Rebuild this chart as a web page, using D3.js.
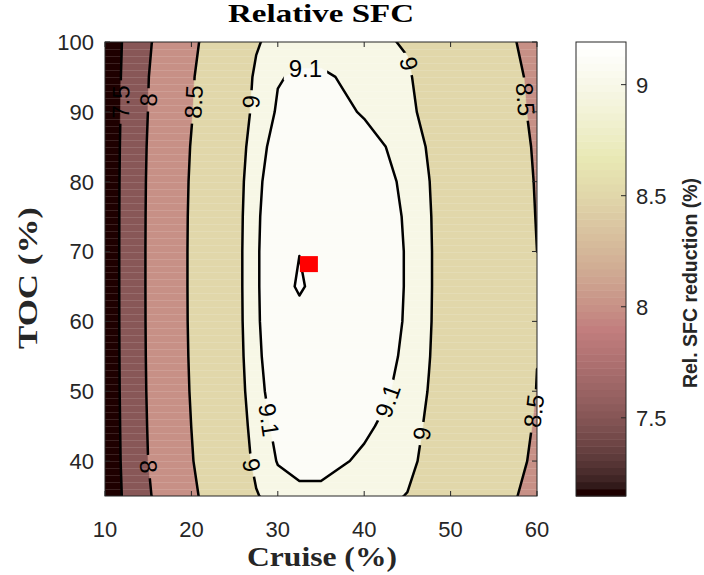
<!DOCTYPE html>
<html>
<head>
<meta charset="utf-8">
<script src="https://cdn.jsdelivr.net/npm/d3@7"></script>
<style>
  body { margin: 0; background: #fff; }
  svg { display: block; }
</style>
</head>
<body>
<svg id="chart" width="704" height="575"></svg>
<script>
// Grid of the relative SFC reduction (%) over cruise share and top-of-climb share.
const cruise = [10, 12.5, 15, 17.5, 20, 22.5, 25, 27.5, 30, 32.5, 35, 37.5, 40, 42.5, 45, 47.5, 50, 52.5, 55, 57.5, 60];
const toc = [35, 40, 45, 50, 55, 60, 65, 70, 75, 80, 85, 90, 95, 100];

// One row per TOC value (bottom to top), one column per cruise value.
const sfc = [
  [7.150, 7.600, 7.960, 8.220, 8.430, 8.640, 8.845, 8.990, 9.060, 9.085, 9.085, 9.070, 9.045, 9.025, 8.995, 8.908, 8.810, 8.710, 8.610, 8.510, 8.410],
  [7.168, 7.627, 8.001, 8.265, 8.480, 8.690, 8.892, 9.035, 9.105, 9.120, 9.120, 9.105, 9.090, 9.070, 9.040, 8.955, 8.860, 8.760, 8.660, 8.560, 8.450],
  [7.176, 7.639, 8.019, 8.285, 8.502, 8.712, 8.913, 9.055, 9.125, 9.140, 9.140, 9.125, 9.110, 9.090, 9.060, 8.976, 8.882, 8.782, 8.682, 8.582, 8.475],
  [7.183, 7.649, 8.034, 8.302, 8.520, 8.730, 8.931, 9.072, 9.142, 9.157, 9.157, 9.142, 9.127, 9.107, 9.077, 8.994, 8.900, 8.800, 8.700, 8.600, 8.495],
  [7.187, 7.655, 8.043, 8.312, 8.531, 8.741, 8.942, 9.082, 9.152, 9.167, 9.167, 9.152, 9.137, 9.117, 9.087, 9.005, 8.911, 8.811, 8.711, 8.611, 8.503],
  [7.189, 7.659, 8.048, 8.318, 8.538, 8.748, 8.948, 9.088, 9.158, 9.165, 9.173, 9.158, 9.143, 9.123, 9.093, 9.011, 8.918, 8.818, 8.718, 8.618, 8.510],
  [7.190, 7.660, 8.050, 8.320, 8.540, 8.750, 8.950, 9.090, 9.160, 9.192, 9.165, 9.160, 9.145, 9.125, 9.095, 9.013, 8.920, 8.820, 8.720, 8.620, 8.510],
  [7.190, 7.660, 8.050, 8.320, 8.540, 8.750, 8.950, 9.090, 9.160, 9.184, 9.175, 9.160, 9.145, 9.125, 9.095, 9.013, 8.920, 8.820, 8.720, 8.620, 8.500],
  [7.189, 7.658, 8.047, 8.317, 8.537, 8.747, 8.947, 9.087, 9.157, 9.165, 9.172, 9.157, 9.142, 9.122, 9.092, 9.010, 8.917, 8.817, 8.717, 8.617, 8.490],
  [7.186, 7.654, 8.041, 8.310, 8.529, 8.739, 8.940, 9.080, 9.150, 9.165, 9.165, 9.150, 9.135, 9.115, 9.085, 9.003, 8.909, 8.809, 8.709, 8.609, 8.480],
  [7.180, 7.645, 8.028, 8.295, 8.513, 8.723, 8.924, 9.065, 9.135, 9.150, 9.150, 9.135, 9.120, 9.100, 9.070, 8.987, 8.893, 8.793, 8.693, 8.593, 8.465],
  [7.170, 7.630, 8.005, 8.270, 8.485, 8.695, 8.898, 9.040, 9.110, 9.125, 9.125, 9.110, 9.095, 9.075, 9.030, 8.961, 8.865, 8.765, 8.665, 8.565, 8.440],
  [7.164, 7.621, 7.992, 8.255, 8.469, 8.679, 8.882, 9.025, 9.095, 9.110, 9.110, 9.095, 9.080, 9.060, 9.015, 8.945, 8.849, 8.749, 8.649, 8.549, 8.425],
  [7.148, 7.597, 7.956, 8.215, 8.425, 8.635, 8.840, 8.985, 9.055, 9.070, 9.070, 9.055, 9.040, 9.010, 8.990, 8.903, 8.805, 8.705, 8.605, 8.505, 8.405]
];

const contourLevels = [7.5, 8, 8.5, 9, 9.1, 9.185];
const optimum = [33.6, 68.2];           // [cruise, TOC] of the selected design point
const xTicks = [10, 20, 30, 40, 50, 60];
const yTicks = [40, 50, 60, 70, 80, 90, 100];
const colorbarTicks = [7.5, 8, 8.5, 9];

// ---------- layout ----------
const svg = d3.select("#chart");
const plot = { left: 105, right: 537, top: 42, bottom: 496 };
const cbar = { left: 576, right: 626, top: 42, bottom: 496 };
const axisColor = "#262626";
const sans = "'Liberation Sans', Arial, Helvetica, sans-serif";
const serif = "'Liberation Serif', 'Times New Roman', serif";

const x = d3.scaleLinear().domain([10, 60]).range([plot.left, plot.right]);
const y = d3.scaleLinear().domain([35, 100]).range([plot.bottom, plot.top]);

// ---------- colour map (MATLAB-style "pink", 64 entries) ----------
function pinkMap(m) {
  const n = Math.floor(3 / 8 * m);
  const out = [];
  for (let i = 0; i < m; i++) {
    const g = i / (m - 1);
    const hr = i < n ? (i + 1) / n : 1;
    const hg = i < n ? 0 : (i < 2 * n ? (i - n + 1) / n : 1);
    const hb = i < 2 * n ? 0 : (i - 2 * n + 1) / (m - 2 * n);
    const c = v => Math.round(255 * Math.sqrt((2 * g + v) / 3));
    out.push(d3.rgb(c(hr), c(hg), c(hb)).formatHex());
  }
  return out;
}
const cmap = pinkMap(64);

const nx = cruise.length, ny = toc.length;
const values = sfc.flat();
const [vmin, vmax] = d3.extent(values);
const colorOf = v => {
  const i = Math.floor((v - vmin) / (vmax - vmin) * cmap.length);
  return cmap[Math.max(0, Math.min(cmap.length - 1, i))];
};

// ---------- contours ----------
const dc = cruise[1] - cruise[0], dt = toc[1] - toc[0];
const gx = u => x(cruise[0] + (u - 0.5) * dc);
const gy = v => y(toc[0] + (v - 0.5) * dt);
const proj = d3.geoTransform({ point(px, py) { this.stream.point(gx(px), gy(py)); } });
const path = d3.geoPath(proj);

const contourGen = d3.contours().size([nx, ny]).thresholds(contourLevels);
const bands = contourGen(values);

const defs = svg.append("defs");
defs.append("clipPath").attr("id", "plotClip")
  .append("rect")
  .attr("x", plot.left).attr("y", plot.top)
  .attr("width", plot.right - plot.left).attr("height", plot.bottom - plot.top);

const fillG = svg.append("g").attr("clip-path", "url(#plotClip)");
fillG.append("rect")
  .attr("x", plot.left).attr("y", plot.top)
  .attr("width", plot.right - plot.left).attr("height", plot.bottom - plot.top)
  .attr("fill", colorOf(vmin));
fillG.selectAll("path.band").data(bands).join("path")
  .attr("class", "band")
  .attr("d", path)
  .attr("fill", d => colorOf(d.value))
  .attr("stroke", d => colorOf(d.value))
  .attr("stroke-width", 0.6);

// faint horizontal seams of the filled patches, one per TOC percent
fillG.selectAll("line.seam").data(d3.range(36, 100)).join("line")
  .attr("class", "seam")
  .attr("x1", plot.left).attr("x2", plot.right)
  .attr("y1", d => Math.round(y(d)) + 0.5).attr("y2", d => Math.round(y(d)) + 0.5)
  .attr("stroke", "#fff").attr("stroke-opacity", 0.13).attr("stroke-width", 1);

// ---------- inline contour labels ----------
const labelAnchors = [
  [7.5, 11.9, 91.4], [8, 15.4, 91.7], [8.5, 20.5, 91.4], [9, 27.3, 91.4],
  [9.1, 33.2, 95.0], [9, 44.5, 96.7], [8.5, 58.5, 91.8],
  [8, 15.0, 39.2], [9, 26.5, 39.3], [9.1, 28.6, 45.8], [9.1, 43.0, 48.5],
  [9, 46.3, 44.0], [8.5, 59.4, 47.2]
];

function nearestOnContour(geom, px, py) {
  let best = null;
  geom.coordinates.forEach(poly => poly.forEach(ring => {
    for (let k = 0; k < ring.length - 1; k++) {
      const ax = gx(ring[k][0]), ay = gy(ring[k][1]);
      const bx = gx(ring[k + 1][0]), by = gy(ring[k + 1][1]);
      const dx = bx - ax, dy = by - ay, L2 = dx * dx + dy * dy;
      if (!L2) continue;
      let t = ((px - ax) * dx + (py - ay) * dy) / L2;
      t = Math.max(0, Math.min(1, t));
      const qx = ax + t * dx, qy = ay + t * dy;
      const d = (qx - px) ** 2 + (qy - py) ** 2;
      if (!best || d < best.d) best = { d, x: qx, y: qy, angle: Math.atan2(dy, dx) * 180 / Math.PI };
    }
  }));
  let a = best.angle;
  if (a > 90) a -= 180;
  if (a < -90) a += 180;
  best.angle = a;
  return best;
}

const labels = labelAnchors.map(([lvl, c, t]) => {
  const geom = bands.find(b => b.value === lvl);
  const p = nearestOnContour(geom, x(c), y(t));
  return { text: String(lvl), x: p.x, y: p.y, angle: p.angle };
});

const labelG = svg.append("g");
const labelText = labelG.selectAll("text").data(labels).join("text")
  .attr("transform", d => `translate(${d.x},${d.y}) rotate(${d.angle})`)
  .attr("text-anchor", "middle")
  .attr("dy", "0.36em")
  .attr("font-family", sans)
  .attr("font-size", 24)
  .attr("fill", "#000")
  .text(d => d.text);
labelText.each(function (d) { d.w = this.getComputedTextLength(); });

const mask = defs.append("mask").attr("id", "labelGaps")
  .attr("maskUnits", "userSpaceOnUse")
  .attr("x", 0).attr("y", 0).attr("width", 704).attr("height", 575);
mask.append("rect").attr("x", 0).attr("y", 0).attr("width", 704).attr("height", 575).attr("fill", "#fff");
mask.selectAll("rect.gap").data(labels).join("rect")
  .attr("class", "gap")
  .attr("x", d => -d.w / 2 - 5).attr("y", -12)
  .attr("width", d => d.w + 10).attr("height", 24)
  .attr("transform", d => `translate(${d.x},${d.y}) rotate(${d.angle})`)
  .attr("fill", "#000");

const lineG = svg.insert("g", () => labelG.node()).attr("clip-path", "url(#plotClip)");
lineG.append("g").attr("mask", "url(#labelGaps)")
  .selectAll("path").data(bands).join("path")
  .attr("d", path)
  .attr("fill", "none")
  .attr("stroke", "#000")
  .attr("stroke-width", 2.5)
  .attr("stroke-linejoin", "round");

// ---------- design point ----------
svg.append("rect")
  .attr("x", x(optimum[0]) - 9).attr("y", y(optimum[1]) - 8)
  .attr("width", 18).attr("height", 16)
  .attr("fill", "#ff0000");

// ---------- axes ----------
const axG = svg.append("g");
axG.append("rect")
  .attr("x", plot.left).attr("y", plot.top)
  .attr("width", plot.right - plot.left).attr("height", plot.bottom - plot.top)
  .attr("fill", "none").attr("stroke", axisColor).attr("stroke-width", 1);

const tickLen = 5;
xTicks.forEach(v => {
  axG.append("line").attr("x1", x(v)).attr("x2", x(v)).attr("y1", plot.bottom).attr("y2", plot.bottom - tickLen).attr("stroke", axisColor);
  axG.append("line").attr("x1", x(v)).attr("x2", x(v)).attr("y1", plot.top).attr("y2", plot.top + tickLen).attr("stroke", axisColor);
  axG.append("text").attr("x", x(v)).attr("y", 537)
    .attr("text-anchor", "middle").attr("font-family", sans).attr("font-size", 22).attr("fill", axisColor)
    .text(v);
});
yTicks.forEach(v => {
  axG.append("line").attr("x1", plot.left).attr("x2", plot.left + tickLen).attr("y1", y(v)).attr("y2", y(v)).attr("stroke", axisColor);
  axG.append("line").attr("x1", plot.right).attr("x2", plot.right - tickLen).attr("y1", y(v)).attr("y2", y(v)).attr("stroke", axisColor);
  axG.append("text").attr("x", 94).attr("y", y(v)).attr("dy", "0.36em")
    .attr("text-anchor", "end").attr("font-family", sans).attr("font-size", 22).attr("fill", axisColor)
    .text(v);
});

svg.append("text").attr("x", 321).attr("y", 22)
  .attr("text-anchor", "middle").attr("font-family", serif).attr("font-weight", "bold")
  .attr("font-size", 25).attr("fill", "#000")
  .attr("textLength", 186).attr("lengthAdjust", "spacingAndGlyphs")
  .text("Relative SFC");
svg.append("text").attr("x", 322).attr("y", 566)
  .attr("text-anchor", "middle").attr("font-family", serif).attr("font-weight", "bold")
  .attr("font-size", 27).attr("fill", axisColor)
  .attr("textLength", 150).attr("lengthAdjust", "spacingAndGlyphs")
  .text("Cruise (%)");
svg.append("text").attr("transform", "translate(37,278) rotate(-90)")
  .attr("text-anchor", "middle").attr("font-family", serif).attr("font-weight", "bold")
  .attr("font-size", 27).attr("fill", axisColor)
  .attr("textLength", 142).attr("lengthAdjust", "spacingAndGlyphs")
  .text("TOC (%)");

// ---------- colour bar ----------
const cbY = d3.scaleLinear().domain([vmin, vmax]).range([cbar.bottom, cbar.top]);
const cbG = svg.append("g");
const step = (vmax - vmin) / cmap.length;
cbG.selectAll("rect.swatch").data(cmap).join("rect")
  .attr("class", "swatch")
  .attr("x", cbar.left)
  .attr("y", (d, i) => cbY(vmin + (i + 1) * step))
  .attr("width", cbar.right - cbar.left)
  .attr("height", (d, i) => cbY(vmin + i * step) - cbY(vmin + (i + 1) * step) + 0.5)
  .attr("fill", d => d);
cbG.append("rect")
  .attr("x", cbar.left).attr("y", cbar.top)
  .attr("width", cbar.right - cbar.left).attr("height", cbar.bottom - cbar.top)
  .attr("fill", "none").attr("stroke", axisColor).attr("stroke-width", 1);
colorbarTicks.forEach(v => {
  cbG.append("line").attr("x1", cbar.right).attr("x2", cbar.right - 5).attr("y1", cbY(v)).attr("y2", cbY(v)).attr("stroke", axisColor);
  cbG.append("text").attr("x", 636).attr("y", cbY(v)).attr("dy", "0.36em")
    .attr("font-family", sans).attr("font-size", 22).attr("fill", axisColor)
    .text(v);
});
svg.append("text").attr("transform", "translate(697,283) rotate(-90)")
  .attr("text-anchor", "middle").attr("font-family", sans).attr("font-weight", "bold")
  .attr("font-size", 19.5).attr("fill", axisColor)
  .text("Rel. SFC reduction (%)");
</script>
</body>
</html>
